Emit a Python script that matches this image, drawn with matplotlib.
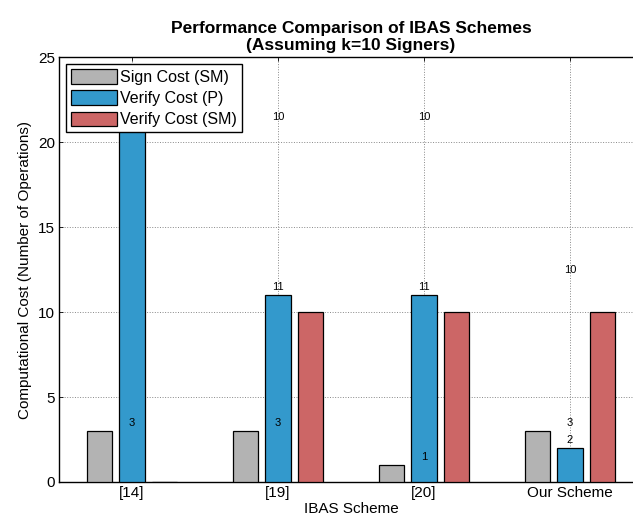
import numpy as np
import matplotlib
matplotlib.use("Agg")
import matplotlib.pyplot as plt

plt.rcParams["font.family"] = ["Liberation Sans", "DejaVu Sans"]

schemes = ["[14]", "[19]", "[20]", "Our Scheme"]
sign_sm = [3, 3, 1, 3]
verify_p = [21, 11, 11, 2]
verify_sm = [0, 10, 10, 10]

series_names = ["Sign Cost (SM)", "Verify Cost (P)", "Verify Cost (SM)"]
colors = ["#b3b3b3", "#3399cc", "#cc6666"]

fig = plt.figure(figsize=(6.33, 5.27), dpi=100)
ax = fig.add_axes([0.0932, 0.0854, 0.9226, 0.806])

x = np.arange(1, len(schemes) + 1)
offset = 0.2226
width = 0.175

for i, (vals, name, col) in enumerate(zip([sign_sm, verify_p, verify_sm], series_names, colors)):
    ax.bar(x + (i - 1) * offset, vals, width, color=col, edgecolor="black",
           linewidth=0.9, label=name, zorder=3)

# value labels (stacked at the group centre, as in the original)
for xi, s, p, r in zip(x, sign_sm, verify_p, verify_sm):
    ax.text(xi, s + 0.5, str(s), ha="center", va="center", fontsize=8, zorder=4)
    ax.text(xi, p + 0.5, str(p), ha="center", va="center", fontsize=8, zorder=4)
    ax.text(xi, p + r + 0.5, str(r), ha="center", va="center", fontsize=8, zorder=4)

ax.set_xlim(0.5, 4.5)
ax.set_ylim(0, 25)
ax.set_xticks(x)
ax.set_xticklabels(schemes, fontsize=11)
ax.set_yticks(np.arange(0, 26, 5))
ax.tick_params(axis="y", labelsize=11)
ax.tick_params(direction="in", top=True, right=True, length=3, width=0.6, pad=3)
ax.grid(True, linestyle=":", color="#888888", linewidth=0.7, zorder=0)
ax.set_axisbelow(True)
for sp in ax.spines.values():
    sp.set_linewidth(1.0)

ax.set_xlabel("IBAS Scheme", fontsize=11, labelpad=1)
ax.set_ylabel("Computational Cost (Number of Operations)", fontsize=11, labelpad=4)
ax.set_title("Performance Comparison of IBAS Schemes\n(Assuming k=10 Signers)",
             fontsize=12.5, fontweight="bold", pad=5, linespacing=1.2)

leg = ax.legend(loc="upper left", fontsize=11.5, fancybox=False, framealpha=1,
                edgecolor="black", borderpad=0.3, labelspacing=0.35,
                handlelength=2.9, handleheight=1.0, handletextpad=0.2,
                borderaxespad=0.45)
leg.get_frame().set_linewidth(1.0)
leg.set_zorder(10)

fig.savefig("out.png", dpi=100)
